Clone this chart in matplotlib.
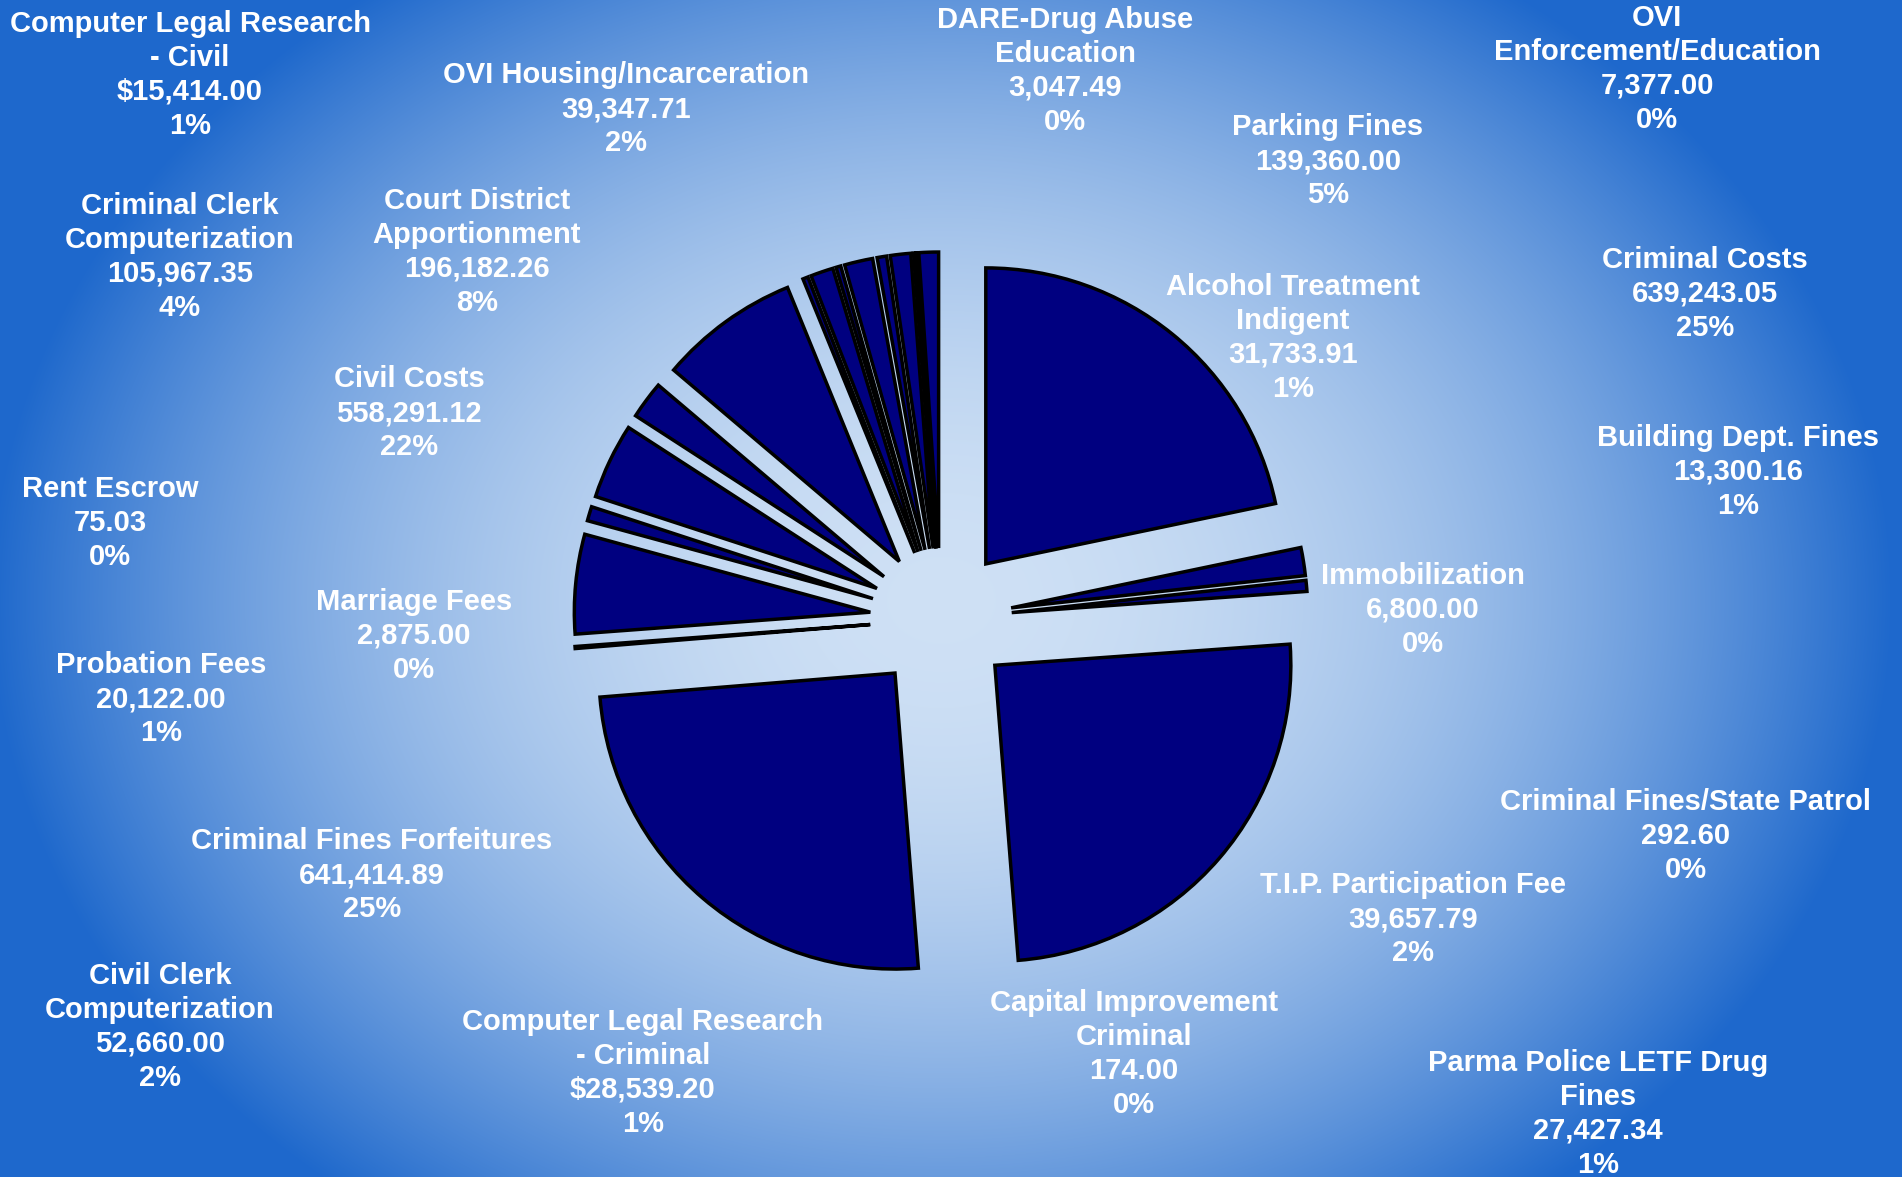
import numpy as np
import matplotlib
matplotlib.use("Agg")
from matplotlib import pyplot as plt

W, H = 1902, 1177

# slices in drawing order (clockwise from 12 o'clock)
names = [
    "Civil Costs",
    "OVI Housing/Incarceration",
    "Computer Legal Research\n- Civil",
    "Criminal Costs",
    "Criminal Fines Forfeitures",
    "Marriage Fees",
    "Parking Fines",
    "Probation Fees",
    "Criminal Clerk\nComputerization",
    "Civil Clerk\nComputerization",
    "Court District\nApportionment",
    "OVI\nEnforcement/Education",
    "Alcohol Treatment\nIndigent",
    "Immobilization",
    "T.I.P. Participation Fee",
    "Building Dept. Fines",
    "Computer Legal Research\n- Criminal",
    "DARE-Drug Abuse\nEducation",
    "Criminal Fines/State Patrol",
    "Capital Improvement\nCriminal",
    "Rent Escrow",
    "Parma Police LETF Drug\nFines",
]
values = [558291.12, 39347.71, 15414.00, 639243.05, 641414.89, 2875.00,
          139360.00, 20122.00, 105967.35, 52660.00, 196182.26, 7377.00,
          31733.91, 6800.00, 39657.79, 13300.16, 28539.20, 3047.49,
          292.60, 174.00, 75.03, 27427.34]
dollar = [False, False, True, False, False, False, False, False, False, False,
          False, False, False, False, False, False, True, False, False, False,
          False, False]

# label centres in image pixels (x, y from top)
label_pos = [(409, 413), (626, 109), (190, 75), (1705, 294), (372, 875),
             (414, 636), (1328, 161), (161, 699), (180, 257), (160, 1027),
             (477, 252), (1657, 69), (1293, 338), (1423, 610), (1413, 919),
             (1738, 472), (643, 1073), (1065, 71), (1686, 836), (1134, 1054),
             (110, 523), (1598, 1114)]

fig = plt.figure(figsize=(W / 100, H / 100), dpi=100)
ax = fig.add_axes([0, 0, 1, 1])

# radial background gradient
yy, xx = np.mgrid[0:H, 0:W]
t = np.sqrt(((xx - 941) / 950.0) ** 2 + ((yy - 600) / 760.0) ** 2)
t = np.clip(t, 0, 1) ** 2.0
c0 = np.array([0.81, 0.88, 0.96])
c1 = np.array([0.12, 0.41, 0.80])
bg = c0[None, None, :] + t[..., None] * (c1 - c0)[None, None, :]
ax.imshow(bg, extent=(0, W, 0, H), origin="upper", zorder=0, aspect="auto")

# explode is in data units here (radius is in pixels)
ax.pie(values, center=(941, H - 619), radius=296, startangle=90,
       counterclock=False, explode=[71] * len(values), colors=["#000080"],
       wedgeprops=dict(edgecolor="black", linewidth=2.5, zorder=2))

total = sum(values)
for name, v, d, (x, y) in zip(names, values, dollar, label_pos):
    num = ("$" if d else "") + f"{v:,.2f}"
    pct = f"{round(v / total * 100):.0f}%"
    ax.text(x, H - y, f"{name}\n{num}\n{pct}", ha="center", va="center",
            color="white", fontsize=21, fontweight="bold",
            family="Liberation Sans", linespacing=1.26, zorder=3)

ax.set_xlim(0, W)
ax.set_ylim(0, H)
ax.set_aspect("equal")
ax.axis("off")
fig.savefig("out.png", dpi=100)
